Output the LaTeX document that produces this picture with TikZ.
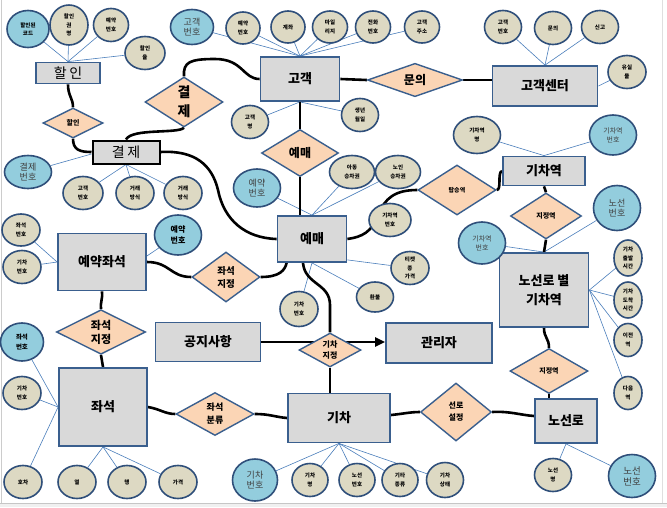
\documentclass[tikz,border=0pt]{standalone}
\usepackage{fontspec}
\setmainfont{Noto Sans CJK KR}
\newfontfamily\spacedkr[LetterSpace=18]{Noto Sans CJK KR}
\usetikzlibrary{shapes.geometric,arrows.meta}
\definecolor{entf}{HTML}{D9D9D9}
\definecolor{entb}{HTML}{3A5F8E}
\definecolor{relf}{HTML}{FBD5B5}
\definecolor{attf}{HTML}{DDD9C3}
\definecolor{attb}{HTML}{2F4F7A}
\definecolor{keyf}{HTML}{93CDDD}
\definecolor{lineb}{HTML}{4A7EBB}
\definecolor{keytxt}{HTML}{404040}
\pgfdeclarelayer{bg}
\pgfsetlayers{bg,main}
\tikzset{
  wh/.style n args={2}{minimum width=#1pt, minimum height=#2pt},
  ent/.style={rectangle, draw=entb, line width=1.8pt, fill=entf, inner sep=0pt, align=center, font=\fontsize{13}{19}\selectfont\bfseries},
  rel/.style={diamond, draw=entb, line width=1.4pt, fill=relf, inner sep=0pt, align=center, font=\fontsize{7}{9}\selectfont\bfseries},
  att/.style={ellipse, draw=attb, line width=1.6pt, fill=attf, inner sep=0pt, align=center, font=\fontsize{5.5}{8.5}\selectfont\bfseries},
  key/.style={att, fill=keyf, font=\fontsize{9}{10.5}\selectfont, text=keytxt},
  al/.style={draw=lineb, line width=0.6pt},
  rl/.style={draw=black, line width=2.6pt},
}
\begin{document}
\begin{tikzpicture}[x=1pt,y=-1pt]
\useasboundingbox (0,0) rectangle (667,507);

% ---------- entities ----------
\node[ent, wh={64}{21}, font=\spacedkr\fontsize{14}{16}\selectfont] (hal) at (68,73) {할인};
\node[ent, wh={67}{23}, draw=black, line width=2pt, font=\spacedkr\fontsize{14}{16}\selectfont] (gyeol) at (126,152) {결제};
\node[ent, wh={79}{44}] (gogaek) at (300,79) {고객};
\node[ent, wh={105}{40}] (center) at (545,86) {고객센터};
\node[ent, wh={88}{57}] (yj) at (102,262) {예약좌석};
\node[ent, wh={69}{46}] (yemae) at (312,239) {예매};
\node[ent, wh={82}{29}] (station) at (544,171) {기차역};
\node[ent, wh={89}{74}] (rstation) at (544,290) {노선로 별\\기차역};
\node[ent, wh={105}{39}] (notice) at (208,342) {공지사항};
\node[ent, wh={106}{40}] (admin) at (439,343) {관리자};
\node[ent, wh={88}{78}] (seat) at (103,407) {좌석};
\node[ent, wh={102}{49}] (train) at (339,418) {기차};
\node[ent, wh={62}{44}] (route) at (566,421) {노선로};

% ---------- relationships ----------
\node[rel, wh={60}{30}] (r_hal) at (73,123) {할인};
\node[rel, wh={78}{50}, font=\fontsize{14}{19}\selectfont\bfseries] (r_gyeol) at (184,102) {결\\제};
\node[rel, wh={77}{47}, font=\fontsize{12}{14}\selectfont\bfseries] (r_yemae) at (300,153) {예매};
\node[rel, wh={95}{32}, font=\fontsize{12}{14}\selectfont\bfseries] (r_mun) at (415,80) {문의};
\node[rel, wh={78}{50}, font=\fontsize{6}{8}\selectfont\bfseries] (r_tap) at (457,190) {탑승역};
\node[rel, wh={68}{50}, font=\fontsize{9.5}{13}\selectfont\bfseries] (r_jj1) at (226,277) {좌석\\지정};
\node[rel, wh={71}{46}] (r_jyeok1) at (546,216) {지정역};
\node[rel, wh={62}{34}, font=\fontsize{8}{11}\selectfont\bfseries] (r_trainj) at (330,350) {기차\\지정};
\node[rel, wh={89}{43}, font=\fontsize{11}{14}\selectfont\bfseries] (r_jj2) at (101,332) {좌석\\지정};
\node[rel, wh={78}{43}, font=\fontsize{9}{13}\selectfont\bfseries] (r_bun) at (215,414) {좌석\\분류};
\node[rel, wh={71}{58}, font=\fontsize{8}{12}\selectfont\bfseries] (r_seon) at (456,412) {선로\\설정};
\node[rel, wh={78}{45}] (r_jyeok2) at (549,371) {지정역};

% ---------- attributes ----------
% 할인
\node[att, fill=keyf, wh={42}{37}] (a1) at (28,29) {할인된\\코드};
\node[att, wh={38}{40}] (a2) at (69,25) {할인\\권\\명};
\node[att, wh={35}{33}] (a3) at (111,25) {예약\\번호};
\node[att, wh={40}{33}] (a4) at (145,53) {할인\\율};
% 결제
\node[key, wh={47}{33}] (b1) at (28,172) {결제\\번호};
\node[att, wh={40}{33}] (b2) at (83,193) {고객\\번호};
\node[att, wh={38}{33}] (b3) at (135,193) {거래\\방식};
\node[att, wh={38}{33}] (b4) at (183,193) {거래\\방식};
% 고객
\node[key, wh={43}{35}] (c1) at (192,27) {고객\\번호};
\node[att, wh={34}{32}] (c2) at (243,28) {예약\\번호};
\node[att, wh={34}{32}] (c3) at (288,27) {계좌};
\node[att, wh={35}{32}] (c4) at (330,27) {마일\\리지};
\node[att, wh={35}{32}] (c5) at (373,27) {전화\\번호};
\node[att, wh={35}{32}] (c6) at (422,27) {고객\\주소};
\node[att, wh={37}{33}] (c7) at (250,122) {고객\\명};
\node[att, wh={37}{33}] (c8) at (360,115) {생년\\월일};
% 고객센터
\node[att, wh={37}{33}] (d1) at (503,27) {고객\\번호};
\node[att, wh={37}{33}] (d2) at (553,28) {문의};
\node[att, wh={37}{33}] (d3) at (600,27) {신고};
\node[att, wh={38}{33}] (d4) at (627,72) {유실\\물};
% 기차역
\node[att, wh={47}{37}] (e1) at (477,135) {기차역\\명};
\node[key, wh={47}{40}, font=\fontsize{7}{9}\selectfont] (e2) at (613,135) {기차역\\번호};
% 노선로 별 기차역
\node[key, wh={47}{42}, font=\fontsize{7}{9}\selectfont] (f1) at (482,243) {기차역\\번호};
\node[key, wh={47}{45}] (f2) at (617,208) {노선\\번호};
\node[att, wh={28}{36}] (f3) at (628,258) {기차\\출발\\시간};
\node[att, wh={28}{36}] (f4) at (628,300) {기차\\도착\\시간};
\node[att, wh={28}{33}] (f5) at (628,340) {이전\\역};
\node[att, wh={28}{33}] (f6) at (628,393) {다음\\역};
% 예약좌석
\node[att, wh={38}{32}] (g1) at (21,230) {좌석\\번호};
\node[att, wh={38}{33}] (g2) at (22,267) {기차\\번호};
\node[att, fill=keyf, wh={47}{40}, font=\fontsize{8}{11}\selectfont\bfseries] (g3) at (178,235) {예약\\번호};
% 예매
\node[key, wh={47}{38}] (h1) at (257,188) {예약\\번호};
\node[att, wh={45}{33}] (h2) at (352,172) {아동\\승차권};
\node[att, wh={45}{33}] (h3) at (398,172) {노인\\승차권};
\node[att, wh={42}{33}] (h4) at (390,220) {기차역\\번호};
\node[att, wh={38}{33}] (h5) at (410,268) {티켓\\종\\가격};
\node[att, wh={37}{30}] (h6) at (375,297) {환불};
\node[att, wh={38}{35}] (h7) at (299,309) {기차\\번호};
% 좌석
\node[att, fill=keyf, wh={43}{38}, font=\fontsize{6.5}{10}\selectfont\bfseries] (i1) at (22,342) {좌석\\번호};
\node[att, wh={38}{33}] (i2) at (22,393) {기차\\번호};
\node[att, wh={38}{33}] (i3) at (23,482) {호차};
\node[att, wh={38}{33}] (i4) at (77,482) {열};
\node[att, wh={38}{33}] (i5) at (127,482) {행};
\node[att, wh={38}{33}] (i6) at (178,482) {가격};
% 기차
\node[key, wh={45}{42}] (j1) at (255,480) {기차\\번호};
\node[att, wh={36}{33}] (j2) at (310,480) {기차\\명};
\node[att, wh={36}{33}] (j3) at (357,480) {노선\\번호};
\node[att, wh={36}{33}] (j4) at (400,480) {기타\\종류};
\node[att, wh={37}{35}] (j5) at (445,480) {기차\\상태};
% 노선로
\node[att, wh={37}{33}] (k1) at (553,475) {노선\\명};
\node[key, wh={47}{43}, font=\fontsize{9.5}{11}\selectfont] (k2) at (632,476) {노선\\번호};

\begin{pgfonlayer}{bg}
\fill[white] (0,0) rectangle (667,507);
\fill[gray!12] (0,503) rectangle (667,507);
\draw[gray!45, line width=0.6pt] (0,503) -- (667,503);
\draw[gray!40, line width=0.6pt] (1.5,0) -- (1.5,503);
\draw[gray!25, line width=0.6pt] (662,0) -- (662,503);
% attribute lines
\foreach \a in {a1,a2,a3,a4} \draw[al] (hal.north) -- (\a);
\draw[al] ([yshift=-2pt]gyeol.west) -- (b1);
\foreach \a in {b2,b3,b4} \draw[al] (gyeol.south) -- (\a);
\foreach \a in {c1,c2,c3,c4,c5,c6} \draw[al] (gogaek.north) -- (\a);
\foreach \a in {c7,c8} \draw[al] (gogaek.south) -- (\a);
\foreach \a in {d1,d2,d3} \draw[al] (center.north) -- (\a);
\draw[al] (center.east) -- (d4);
\foreach \a in {e1,e2} \draw[al] (station.north) -- (\a);
\foreach \a in {f1,f2} \draw[al] (rstation.north) -- (\a);
\foreach \a in {f3,f4,f5,f6} \draw[al] (rstation.east) -- (\a);
\foreach \a in {g1,g2} \draw[al] (yj.west) -- (\a);
\draw[al] ([yshift=6pt]yj.east) -- (g3);
\foreach \a in {h1,h2,h3} \draw[al] (yemae.north) -- (\a);
\draw[al] ([yshift=3pt]yemae.south east) -- (h5);
\foreach \a in {h6,h7} \draw[al] (yemae.south) -- (\a);
\foreach \a in {i1,i2,i3} \draw[al] (seat.west) -- (\a);
\foreach \a in {i4,i5,i6} \draw[al] (seat.south) -- (\a);
\foreach \a in {j1,j2,j3,j4,j5} \draw[al] (train.south) -- (\a);
\foreach \a in {k1,k2} \draw[al] (route.south) -- (\a);

% relationship lines
\draw[rl] (hal.south) .. controls (68,96) and (73,98) .. (r_hal.north);
\draw[rl] (r_hal.south) .. controls (73,150) and (80,152) .. (gyeol.west);
\draw[rl] (r_gyeol.north) .. controls (183,62) and (190,59) .. (215,59) .. controls (243,59) and (243,79) .. (gogaek.west);
\draw[rl] (r_gyeol.south) .. controls (178,134) and (132,128) .. (gyeol.north);
\draw[rl] (gyeol.east) .. controls (195,150) and (212,165) .. (218,190) .. controls (224,220) and (245,238) .. (yemae.west);
\draw[rl] (yj.east) .. controls (170,262) and (170,277) .. (r_jj1.west);
\draw[rl] (r_jj1.east) .. controls (280,277) and (285,270) .. ([xshift=10pt]yemae.south west);
\draw[rl] (gogaek.south) -- (r_yemae.north);
\draw[rl] (r_yemae.south) -- (r_yemae.south |- yemae.north);
\draw[rl] (gogaek.east) -- (r_mun.west);
\draw[rl] (r_mun.east) -- (r_mun.east -| center.west);
\draw[rl] (r_tap.west) .. controls (395,190) and (385,198) .. (378,215) .. controls (372,232) and (362,237) .. (yemae.east);
\draw[rl] (r_tap.east) .. controls (502,190) and (497,172) .. (station.west);
\draw[rl] (station.south) -- (r_jyeok1.north);
\draw[rl] (r_jyeok1.south) -- (rstation.north);
\draw[rl] (rstation.south) .. controls (544,338) and (549,338) .. (r_jyeok2.north);
\draw[rl] (r_jyeok2.south) -- (r_jyeok2.south |- route.north);
\draw[rl] (r_seon.east) .. controls (510,411) and (520,415) .. ([yshift=5pt]route.west);
\draw[rl] ([yshift=3pt]train.east) .. controls (402,414) and (410,412) .. (r_seon.west);
\draw[rl] ([xshift=-9pt]yemae.south) .. controls (305,285) and (330,283) .. (330,305) -- (r_trainj.north);
\draw[rl] (r_trainj.south) -- (r_trainj.south |- train.north);
\draw[rl, -{Triangle[length=10pt,width=9pt]}] (notice.east) -- (notice.east -| admin.west);
\draw[rl] (r_bun.east) .. controls (270,414) and (275,417) .. (train.west);
\draw[rl] (seat.east) .. controls (160,409) and (165,414) .. (r_bun.west);
\draw[rl] (yj.south) .. controls (103,298) and (100,303) .. (r_jj2.north);
\draw[rl] (r_jj2.south) -- (seat.north);
\end{pgfonlayer}
\end{tikzpicture}
\end{document}
